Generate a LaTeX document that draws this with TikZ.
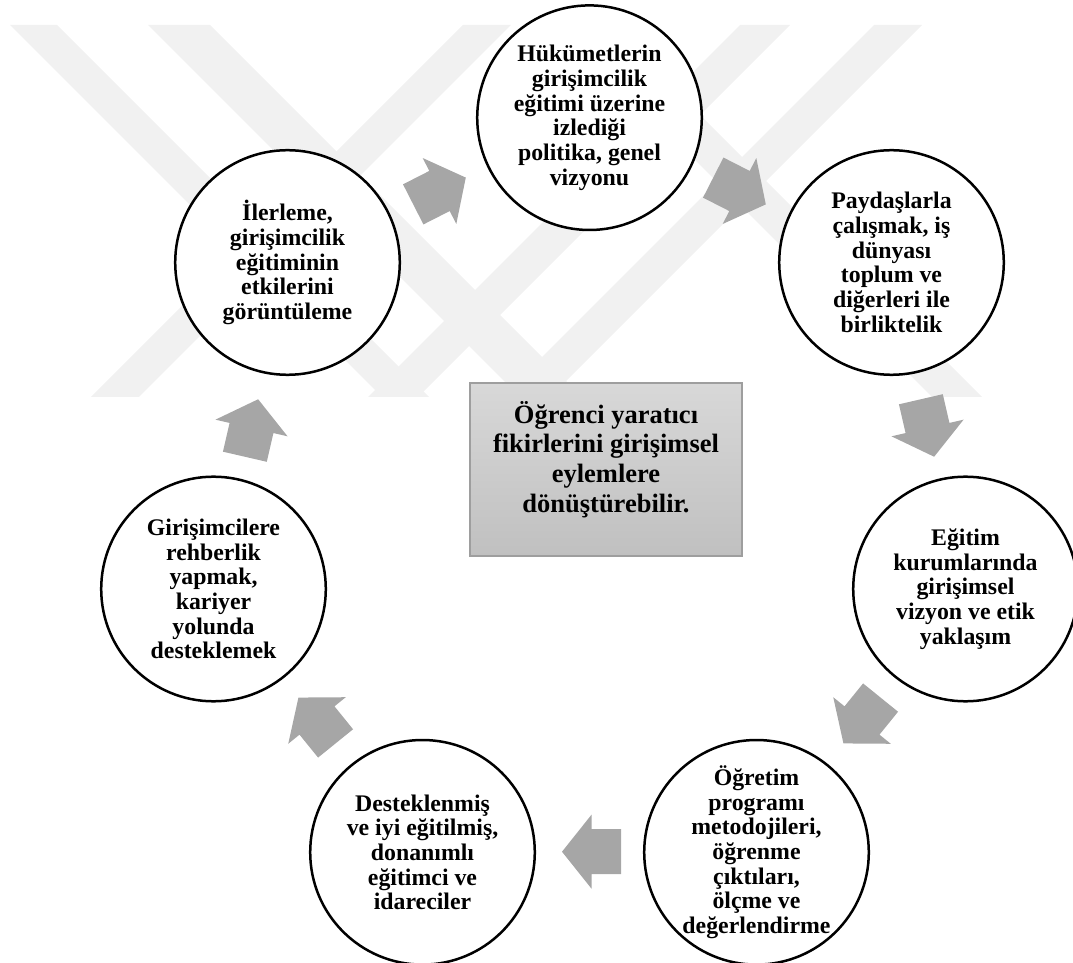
\documentclass[tikz,border=0pt]{standalone}
\usepackage{fontspec}
\setmainfont{Liberation Serif}
\definecolor{wmgray}{RGB}{241,241,241}
\definecolor{arrowgray}{RGB}{166,166,166}
\definecolor{rectborder}{RGB}{158,158,158}
\definecolor{recttop}{RGB}{216,216,216}
\definecolor{rectbot}{RGB}{192,192,192}
\newcommand\flowarrow[3]{%
  \fill[blockarrow, shift={(#1,#2)}, rotate=#3]
    (-29.5,-22.5) -- (0,-22.5) -- (0,-37) -- (29.5,0) -- (0,37) -- (0,22.5) -- (-29.5,22.5) -- cycle;}
\begin{document}
\begin{tikzpicture}[x=1pt,y=1pt,
  wm/.style={fill=wmgray, draw=none},
  blockarrow/.style={fill=arrowgray, draw=none},
  stage/.style={circle, draw=black, line width=2.5pt, fill=white, minimum size=224.6pt, inner sep=0pt},
  stagetext/.style={align=center, inner sep=0pt, font=\fontsize{23.8}{24.7}\selectfont\bfseries},
  core/.style={rectangle, draw=rectborder, line width=1.3pt, top color=recttop, bottom color=rectbot, minimum width=272pt, minimum height=173pt, inner sep=0pt},
  coretext/.style={align=center, inner sep=0pt, font=\fontsize{26.5}{29.8}\selectfont\bfseries}
]
\useasboundingbox (0,0) rectangle (1073,962);
\clip (0,0) rectangle (1073,962);
% watermark
\fill[wm] (10,937) -- (57,937) -- (429,565) -- (382,565) -- cycle;
\fill[wm] (148,937) -- (210,937) -- (582,565) -- (520,565) -- cycle;
\fill[wm] (740,937) -- (790,937) -- (418,565) -- (368,565) -- cycle;
\fill[wm] (874,937) -- (922,937) -- (550,565) -- (502,565) -- cycle;
\fill[wm] (463,937) -- (511,937) -- (139,565) -- (91,565) -- cycle;
\fill[wm] (560,937) -- (610,937) -- (982,565) -- (932,565) -- cycle;
% arrows
\flowarrow{439.5}{771}{27}
\flowarrow{739.5}{771}{-27}
\flowarrow{927.5}{534}{-77}
\flowarrow{862}{241.5}{-129}
\flowarrow{591.5}{110.3}{180}
\flowarrow{317}{241.5}{129}
\flowarrow{251.5}{534}{77}
% circles
\node[stage] (c1) at (589.5,844.3) {};
\node[stage] (c2) at (891.5,699.5) {};
\node[stage] (c3) at (965.5,373) {};
\node[stage] (c4) at (756.5,109.7) {};
\node[stage] (c5) at (422.5,109.7) {};
\node[stage] (c6) at (213.5,373) {};
\node[stage] (c7) at (287.5,699.5) {};
\node[stagetext] (t1) at (c1) {Hükümetlerin\\girişimcilik\\eğitimi üzerine\\izlediği\\politika, genel\\vizyonu};
\node[stagetext] (t2) at (c2) {Paydaşlarla\\çalışmak, iş\\dünyası\\toplum ve\\diğerleri ile\\birliktelik};
\node[stagetext] (t3) at (c3) {Eğitim\\kurumlarında\\girişimsel\\vizyon ve etik\\yaklaşım};
\node[stagetext] (t4) at (c4) {Öğretim\\programı\\metodojileri,\\öğrenme\\çıktıları,\\ölçme ve\\değerlendirme};
\node[stagetext] (t5) at (c5) {Desteklenmiş\\ve iyi eğitilmiş,\\donanımlı\\eğitimci ve\\idareciler};
\node[stagetext] (t6) at (c6) {Girişimcilere\\rehberlik\\yapmak,\\kariyer\\yolunda\\desteklemek};
\node[stagetext] (t7) at (c7) {İlerleme,\\girişimcilik\\eğitiminin\\etkilerini\\görüntüleme};
% centre box
\node[core] (box) at (606,492.5) {};
\node[coretext] (boxtext) at (606,502.5) {Öğrenci yaratıcı\\fikirlerini girişimsel\\eylemlere\\dönüştürebilir.};
\end{tikzpicture}
\end{document}
